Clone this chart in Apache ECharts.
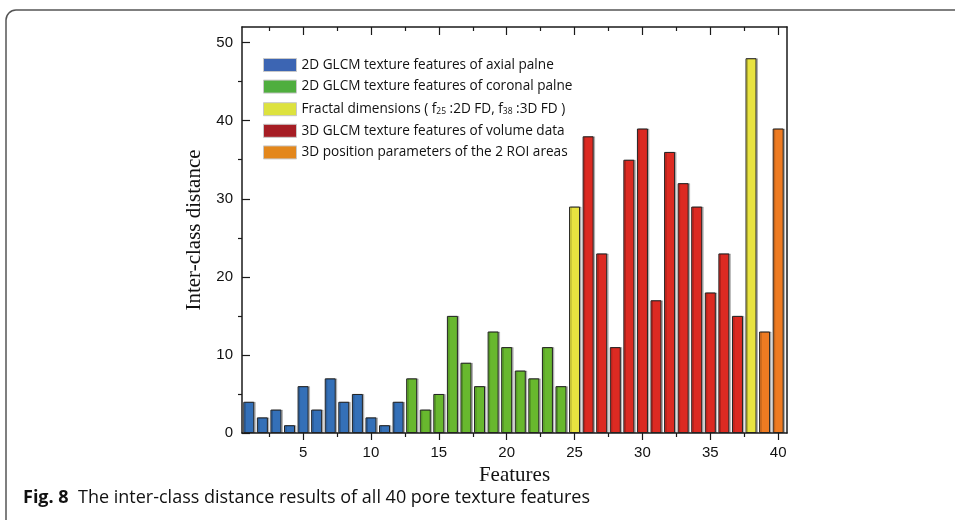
<!DOCTYPE html>
<html>
<head>
<meta charset="utf-8">
<script src="https://cdn.jsdelivr.net/npm/echarts@6/dist/echarts.min.js"></script>
<style>
  html, body { margin: 0; padding: 0; background: #fff; }
  #chart { width: 955px; height: 520px; }
</style>
</head>
<body>
<div id="chart"></div>
<script>
// feature numbers and inter-class distances, one pair of arrays per group
const axialFeatures = [1, 2, 3, 4, 5, 6, 7, 8, 9, 10, 11, 12];
const axialValues = [4, 2, 3, 1, 6, 3, 7, 4, 5, 2, 1, 4];
const coronalFeatures = [13, 14, 15, 16, 17, 18, 19, 20, 21, 22, 23, 24];
const coronalValues = [7, 3, 5, 15, 9, 6, 13, 11, 8, 7, 11, 6];
const fractalFeatures = [25, 38];
const fractalValues = [29, 48];
const volumeFeatures = [26, 27, 28, 29, 30, 31, 32, 33, 34, 35, 36, 37];
const volumeValues = [38, 23, 11, 35, 39, 17, 36, 32, 29, 18, 23, 15];
const positionFeatures = [39, 40];
const positionValues = [13, 39];

const xMajorTicks = [5, 10, 15, 20, 25, 30, 35, 40];
const xMinorTicks = [2.5, 7.5, 12.5, 17.5, 22.5, 27.5, 32.5, 37.5];
const yMajorTicks = [0, 10, 20, 30, 40, 50];
const yMinorTicks = [5, 15, 25, 35, 45];

const seriesNames = [
  '2D GLCM texture features of axial palne',
  '2D GLCM texture features of coronal palne',
  'Fractal dimensions ( f25 :2D FD, f38 :3D FD )',
  '3D GLCM texture features of volume data',
  '3D position parameters of the 2 ROI areas'
];

const barColors = ['#3470b8', '#68b82e', '#e8e340', '#dc2a22', '#ee7b22'];
const legendColors = ['#3c65b3', '#4fae3e', '#dde23e', '#a61d24', '#e3871c'];

const myChart = echarts.init(document.getElementById('chart'));

function pairUp(xs, ys) {
  return xs.map((x, i) => [x, ys[i]]);
}

const groups = [
  pairUp(axialFeatures, axialValues),
  pairUp(coronalFeatures, coronalValues),
  pairUp(fractalFeatures, fractalValues),
  pairUp(volumeFeatures, volumeValues),
  pairUp(positionFeatures, positionValues)
];

const xRange = { min: 0.5, max: 40.65 };
const yRange = { min: 0, max: 52 };
const axisColor = '#1a1a1a';
const tickStyle = { color: axisColor, width: 1.2 };

const option = {
  backgroundColor: '#fff',
  animation: false,
  grid: { left: 242, right: 168, top: 27, bottom: 87 },
  legend: {
    orient: 'vertical',
    left: 263,
    top: 58,
    padding: 0,
    itemWidth: 33,
    itemHeight: 13,
    itemGap: 7.6,
    selectedMode: false,
    data: seriesNames.map((n, i) => ({
      name: n,
      icon: 'rect',
      itemStyle: { color: legendColors[i], borderColor: '#c8c8c8', borderWidth: 1 }
    })),
    formatter: function (name) {
      if (name.indexOf('f25') >= 0) {
        return 'Fractal dimensions ( f{sub|25} :2D FD, f{sub|38} :3D FD )';
      }
      return name;
    },
    textStyle: {
      fontFamily: 'Open Sans',
      fontSize: 13.6,
      color: '#111',
      lineHeight: 14,
      rich: {
        sub: { fontFamily: 'Open Sans', fontSize: 8.5, color: '#111', verticalAlign: 'bottom', lineHeight: 14, padding: [6, 0, 0, 0] }
      }
    }
  },
  xAxis: [
    {
      type: 'value', position: 'bottom', ...xRange,
      name: 'Features', nameLocation: 'middle', nameGap: 32,
      nameTextStyle: { fontFamily: 'Liberation Serif', fontSize: 21, color: '#111' },
      axisLine: { show: true, onZero: false, lineStyle: { color: axisColor, width: 1.5 } },
      axisTick: { show: true, length: 7, customValues: xMajorTicks, lineStyle: tickStyle },
      axisLabel: { customValues: xMajorTicks, margin: 12, fontFamily: 'Liberation Sans', fontSize: 15, color: '#111' },
      splitLine: { show: false }
    },
    {
      type: 'value', position: 'bottom', ...xRange,
      axisLine: { show: false, onZero: false },
      axisTick: { show: true, length: 4, customValues: xMinorTicks, lineStyle: tickStyle },
      axisLabel: { show: false },
      splitLine: { show: false }
    },
    {
      type: 'value', position: 'top', ...xRange,
      axisLine: { show: true, onZero: false, lineStyle: { color: axisColor, width: 1.5 } },
      axisTick: { show: true, inside: true, length: 8, customValues: xMajorTicks, lineStyle: tickStyle },
      axisLabel: { show: false },
      splitLine: { show: false }
    },
    {
      type: 'value', position: 'top', ...xRange,
      axisLine: { show: false, onZero: false },
      axisTick: { show: true, inside: true, length: 4, customValues: xMinorTicks, lineStyle: tickStyle },
      axisLabel: { show: false },
      splitLine: { show: false }
    }
  ],
  yAxis: [
    {
      type: 'value', position: 'left', ...yRange,
      name: 'Inter-class distance', nameLocation: 'middle', nameGap: 37,
      nameTextStyle: { fontFamily: 'Liberation Serif', fontSize: 21, color: '#111' },
      axisLine: { show: true, onZero: false, lineStyle: { color: axisColor, width: 1.5 } },
      axisTick: { show: true, inside: true, length: 8, customValues: yMajorTicks, lineStyle: tickStyle },
      axisLabel: { customValues: yMajorTicks, margin: 9, fontFamily: 'Liberation Sans', fontSize: 15, color: '#111' },
      splitLine: { show: false }
    },
    {
      type: 'value', position: 'left', ...yRange,
      axisLine: { show: false, onZero: false },
      axisTick: { show: true, length: 4, customValues: yMinorTicks, lineStyle: tickStyle },
      axisLabel: { show: false },
      splitLine: { show: false }
    },
    {
      type: 'value', position: 'right', ...yRange,
      axisLine: { show: true, onZero: false, lineStyle: { color: axisColor, width: 1.5 } },
      axisTick: { show: false },
      axisLabel: { show: false },
      splitLine: { show: false }
    }
  ],
  series: groups.map((data, i) => ({
    name: seriesNames[i],
    type: 'bar',
    xAxisIndex: 0,
    yAxisIndex: 0,
    barWidth: 11,
    barGap: '-100%',
    data: data,
    itemStyle: {
      color: barColors[i],
      borderColor: '#222',
      borderWidth: 1,
      shadowColor: 'rgba(0,0,0,0.22)',
      shadowOffsetX: 1.5,
      shadowOffsetY: 0,
      shadowBlur: 0
    }
  })),
  graphic: [
    {
      type: 'rect',
      shape: { x: 6, y: 10, width: 1000, height: 560, r: 10 },
      style: { fill: 'none', stroke: '#555', lineWidth: 1.5 },
      silent: true
    },
    {
      type: 'text',
      left: 23,
      top: 489,
      style: {
        text: '{b|Fig. 8}  The inter-class distance results of all 40 pore texture features',
        fontFamily: 'Open Sans',
        fontSize: 18,
        fill: '#111',
        rich: {
          b: { fontFamily: 'Open Sans', fontWeight: 'bold', fontSize: 18, fill: '#111' }
        }
      }
    }
  ]
};

myChart.setOption(option);
</script>
</body>
</html>
